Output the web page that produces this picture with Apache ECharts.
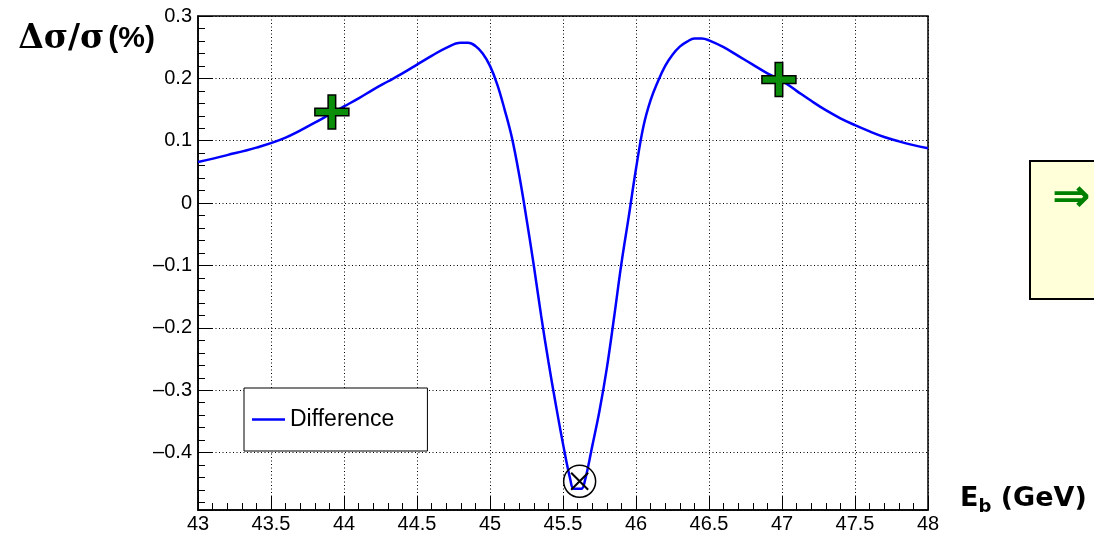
<!DOCTYPE html>
<html><head><meta charset="utf-8">
<script src="https://cdn.jsdelivr.net/npm/echarts@6/dist/echarts.min.js"></script>
<style>html,body{margin:0;padding:0;background:#fff}#c{width:1094px;height:534px}</style>
</head><body><div id="c"></div>
<script>
// Beam energy (GeV)
const energies = [43.0, 43.2, 43.4, 43.6, 43.8, 43.9, 44.0, 44.1, 44.2, 44.3, 44.4, 44.5, 44.6, 44.7, 44.8, 44.85, 44.9, 44.95,
  45.0, 45.05, 45.1, 45.15, 45.2, 45.25, 45.3, 45.35, 45.4, 45.45, 45.5, 45.55, 45.575, 45.625, 45.65, 45.7, 45.75, 45.8,
  45.85, 45.9, 45.95, 46.0, 46.05, 46.1, 46.15, 46.2, 46.25, 46.3, 46.35, 46.4, 46.45, 46.5, 46.6, 46.7, 46.8, 46.9,
  47.0, 47.1, 47.2, 47.3, 47.4, 47.5, 47.6, 47.7, 47.8, 47.9, 48.0];
// Δσ/σ (%)
const difference = [0.066, 0.077, 0.089, 0.105, 0.129, 0.142, 0.155, 0.168, 0.182, 0.195, 0.208, 0.222, 0.236, 0.249, 0.257, 0.257, 0.252, 0.240,
  0.220, 0.190, 0.150, 0.105, 0.045, -0.025, -0.100, -0.180, -0.254, -0.322, -0.386, -0.443, -0.458, -0.458, -0.445, -0.390, -0.333, -0.265,
  -0.183, -0.097, -0.022, 0.055, 0.122, 0.165, 0.195, 0.220, 0.238, 0.251, 0.259, 0.264, 0.264, 0.261, 0.250, 0.236, 0.222, 0.208,
  0.196, 0.180, 0.164, 0.149, 0.136, 0.125, 0.115, 0.106, 0.099, 0.093, 0.088];
const crossPoints = [[43.917, 0.146], [46.979, 0.198]];
const minimumPoint = [[45.614, -0.446]];

const lineData = energies.map((e, i) => [e, difference[i]]);
const chart = echarts.init(document.getElementById('c'), null, {renderer: 'canvas'});
const lbl = {color: '#000', fontFamily: 'Liberation Sans, Arial, sans-serif', fontSize: 20};
chart.setOption({
  animation: false,
  backgroundColor: '#fff',
  grid: {left: 198, right: 166, top: 16, bottom: 22, show: true, borderColor: '#000', borderWidth: 1.5, backgroundColor: 'transparent'},
  legend: {
    data: [{name: 'Difference', icon: 'rect'}], left: 244, top: 388, orient: 'vertical',
    backgroundColor: '#fff', borderColor: '#000', borderWidth: 1,
    padding: [20, 33, 20, 8], itemWidth: 33, itemHeight: 2.5,
    textStyle: {color: '#000', fontFamily: 'Liberation Sans, Arial, sans-serif', fontSize: 23, lineHeight: 22}
  },
  xAxis: {
    type: 'value', min: 43, max: 48, interval: 0.5,
    name: '{e|E}{s|b}{t| (GeV)}', nameLocation: 'end', nameGap: 32,
    nameTextStyle: {align: 'left', verticalAlign: 'middle', padding: [0, 0, 22, 0],
      rich: {
        e: {fontFamily: 'DejaVu Sans', fontWeight: 'bold', fontSize: 27, color: '#000'},
        s: {fontFamily: 'DejaVu Sans', fontWeight: 'bold', fontSize: 18, color: '#000', padding: [16, 0, 0, 0]},
        t: {fontFamily: 'DejaVu Sans', fontWeight: 'bold', fontSize: 27, color: '#000'}
      }},
    axisLine: {show: true, onZero: false, lineStyle: {color: '#000', width: 1.5}},
    axisTick: {show: true, inside: true, length: 14, lineStyle: {color: '#000', width: 1}},
    minorTick: {show: true, splitNumber: 5, length: 7, lineStyle: {color: '#000', width: 1}},
    axisLabel: Object.assign({margin: 4}, lbl),
    splitLine: {show: true, lineStyle: {color: '#000', width: 1, type: [1, 2.5]}}
  },
  yAxis: {
    type: 'value', min: -0.492, max: 0.3, splitNumber: 8,
    name: '{g|Δσ/σ}{sp| }{p|(%)}', nameLocation: 'end', nameGap: -23,
    nameTextStyle: {align: 'right', verticalAlign: 'middle', padding: [0, 43, 0, 0],
      rich: {
        g: {fontFamily: 'DejaVu Serif', fontWeight: 'bold', fontSize: 33, color: '#000'},
        sp: {fontFamily: 'Liberation Sans', fontSize: 14},
        p: {fontFamily: 'Liberation Sans', fontWeight: 'bold', fontSize: 30, color: '#000'}
      }},
    axisLine: {show: true, onZero: false, lineStyle: {color: '#000', width: 1.5}},
    axisTick: {show: true, inside: true, length: 14, lineStyle: {color: '#000', width: 1}},
    minorTick: {show: true, splitNumber: 5, length: 7, lineStyle: {color: '#000', width: 1}},
    axisLabel: Object.assign({margin: 6, showMinLabel: false, formatter: v => {
      if (Math.abs(v) < 1e-9) return '0';
      return (v < 0 ? '–' : '') + Math.abs(v).toFixed(1);
    }}, lbl),
    splitLine: {show: true, lineStyle: {color: '#000', width: 1, type: [1, 2.5]}}
  },
  series: [
    {name: 'Difference', type: 'line', data: lineData, showSymbol: false, symbol: 'none', smooth: 0.4,
     lineStyle: {color: '#0000ff', width: 2.5}, itemStyle: {color: '#0000ff'}, z: 3},
    {name: 'cross', type: 'scatter', data: crossPoints, z: 5,
     symbol: 'path://M3.5,0 H5.5 V3.5 H9 V5.5 H5.5 V9 H3.5 V5.5 H0 V3.5 H3.5 Z', symbolSize: 34,
     itemStyle: {color: '#0b8f0b', borderColor: '#000', borderWidth: 1.5, opacity: 1}},
    {name: 'minCircle', type: 'scatter', data: minimumPoint, z: 5, symbol: 'circle', symbolSize: 32,
     itemStyle: {color: 'transparent', borderColor: '#000', borderWidth: 1.5, opacity: 1}},
    {name: 'minX', type: 'scatter', data: minimumPoint, z: 5, symbol: 'path://M0,0 L10,10 M10,0 L0,10', symbolSize: 17,
     itemStyle: {color: 'none', borderColor: '#000', borderWidth: 2, opacity: 1}}
  ],
  graphic: [
    {type: 'rect', left: 1029, top: 160, shape: {x: 0, y: 0, width: 100, height: 138}, z: 10,
     style: {fill: '#ffffd9', stroke: '#000', lineWidth: 2}},
    {type: 'text', left: 1052, top: 176, z: 11,
     style: {text: '⇒', fill: '#008000', font: 'bold 46px DejaVu Sans'}}
  ]
});
</script></body></html>
